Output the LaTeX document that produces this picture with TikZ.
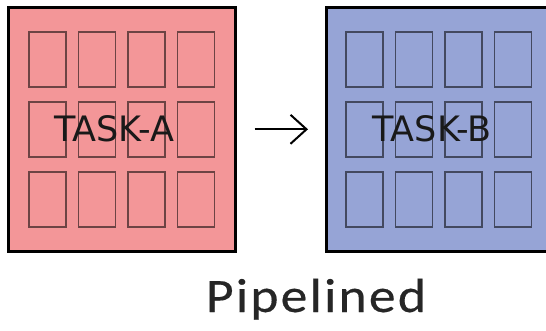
\documentclass[tikz,border=0pt]{standalone}
\usepackage{fontspec}
\setmainfont{Carlito}
\newfontfamily\taskfont{DejaVu Sans}
\newfontfamily\captionfont[LetterSpace=4,FakeBold=0.3]{Carlito}
\usetikzlibrary{arrows.meta}

\definecolor{pinkfill}{RGB}{243,150,152}
\definecolor{bluefill}{RGB}{150,164,214}
\definecolor{captiongray}{RGB}{38,38,38}

\tikzset{
  taskbox/.style={draw=black, line width=2.6pt, minimum width=227pt,
    minimum height=244pt, inner sep=0pt, anchor=north west},
  cell/.style={draw=black, draw opacity=0.55, line width=1.7pt,
    minimum width=37pt, minimum height=55pt, inner sep=0pt, anchor=north west},
  tasklabel/.style={font=\taskfont\fontsize{35}{36}\selectfont, text=black!90,
    anchor=base, inner sep=0pt},
  flow/.style={line width=2pt, -{Straight Barb[length=16pt,width=29pt,line width=2pt]}}
}

\begin{document}
\begin{tikzpicture}[x=1pt,y=-1pt]
  \useasboundingbox (0,0) rectangle (546,331);
  \clip (0,0) rectangle (546,331);
  \fill[white] (0,0) rectangle (546,331);

  % first task with its grid of work items
  \node[taskbox, fill=pinkfill] (A) at (7,6) {};
  \foreach \i in {0,...,3}
    \foreach \j in {0,...,2}
      \node[cell] (a\i\j) at ({28+49.5*\i},{31+70*\j}) {};
  \node[tasklabel] (la) at (114,142) {TASK-A};

  % second task with its grid of work items
  \node[taskbox, fill=bluefill] (B) at (325,6) {};
  \foreach \i in {0,...,3}
    \foreach \j in {0,...,2}
      \node[cell] (b\i\j) at ({345+49.5*\i},{31+70*\j}) {};
  \node[tasklabel] (lb) at (432,142) {TASK-B};

  % hand-off between the two tasks
  \draw[flow, shorten <=18pt, shorten >=17pt] (A.east) -- (B.west);

  % caption
  \node[text=captiongray, inner sep=0pt, anchor=base] (cap) at (316,312)
    {\scalebox{1.12}[1]{\captionfont\fontsize{48}{48}\selectfont Pipelined}};
\end{tikzpicture}
\end{document}
